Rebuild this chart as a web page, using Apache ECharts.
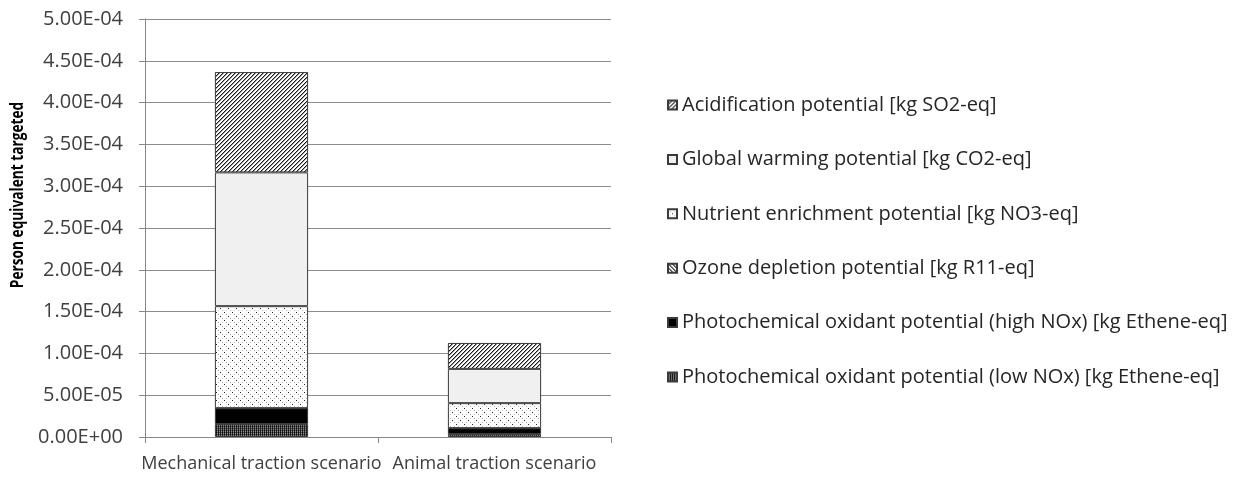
<!DOCTYPE html>
<html>
<head>
<meta charset="utf-8">
<script src="https://cdn.jsdelivr.net/npm/echarts@6/dist/echarts.min.js"></script>
<style>
  html, body { margin: 0; padding: 0; background: #fff; }
  #main { width: 1241px; height: 480px; }
</style>
</head>
<body>
<div id="main"></div>
<script>
// scenarios on the x axis
const scenarios = ['Mechanical traction scenario', 'Animal traction scenario'];
// y axis ticks (as shown)
const yTicks = ['0.00E+00', '5.00E-05', '1.00E-04', '1.50E-04', '2.00E-04', '2.50E-04', '3.00E-04', '3.50E-04', '4.00E-04', '4.50E-04', '5.00E-04'];

// impact categories, stacked bottom -> top
const lowNOx = [1.55e-5, 3.5e-6];
const highNOx = [1.88e-5, 7.0e-6];
const ozone = [2e-7, 1e-7];
const nutrient = [1.22e-4, 2.99e-5];
const gwp = [1.60e-4, 4.10e-5];
const acid = [1.20e-4, 3.10e-5];

const names = {
  acid: 'Acidification potential [kg SO2-eq]',
  gwp: 'Global warming potential [kg CO2-eq]',
  nutrient: 'Nutrient enrichment potential [kg NO3-eq]',
  ozone: 'Ozone depletion potential [kg R11-eq]',
  high: 'Photochemical oxidant potential (high NOx) [kg Ethene-eq]',
  low: 'Photochemical oxidant potential (low NOx) [kg Ethene-eq]'
};

// little pixel tiles used as fill patterns
function tile(size, bg, draw) {
  const c = document.createElement('canvas');
  c.width = size; c.height = size;
  const ctx = c.getContext('2d');
  ctx.fillStyle = bg;
  ctx.fillRect(0, 0, size, size);
  draw(ctx);
  return { image: c, repeat: 'repeat' };
}
function px(ctx, x, y, col) { ctx.fillStyle = col; ctx.fillRect(x, y, 1, 1); }

const acidFill = tile(4, '#ffffff', ctx => {
  for (let i = 0; i < 4; i++) {
    px(ctx, i, 3 - i, '#1a1a1a');
    px(ctx, (i + 1) % 4, 3 - i, '#9a9a9a');
  }
});
const ozoneFill = tile(4, '#ffffff', ctx => {
  for (let i = 0; i < 4; i++) {
    px(ctx, i, i, '#1a1a1a');
    px(ctx, (i + 1) % 4, i, '#9a9a9a');
  }
});
const nutrientFill = tile(8, '#ffffff', ctx => {
  px(ctx, 0, 0, '#202020');
  px(ctx, 4, 4, '#202020');
  px(ctx, 2, 2, '#b0b0b0');
  px(ctx, 6, 6, '#b0b0b0');
  px(ctx, 2, 6, '#c8c8c8');
  px(ctx, 6, 2, '#c8c8c8');
});
const lowFill = tile(2, '#505050', ctx => {
  px(ctx, 0, 0, '#101010');
  px(ctx, 1, 1, '#8a8a8a');
  px(ctx, 0, 1, '#2a2a2a');
});

const border = { borderColor: '#3a3a3a', borderWidth: 1 };

function bar(name, data, fill) {
  return {
    name: name,
    type: 'bar',
    stack: 'total',
    barWidth: '40%',
    data: data,
    itemStyle: Object.assign({ color: fill }, border),
    emphasis: { disabled: true }
  };
}

const chart = echarts.init(document.getElementById('main'), null, { renderer: 'canvas' });
chart.setOption({
  animation: false,
  textStyle: { fontFamily: 'Open Sans' },
  grid: { left: 145, right: 630, top: 19, bottom: 43, containLabel: false },
  legend: {
    orient: 'vertical',
    left: 662,
    top: 89,
    icon: 'rect',
    itemWidth: 9,
    itemHeight: 9,
    itemGap: 32.4,
    data: [names.acid, names.gwp, names.nutrient, names.ozone, names.high, names.low],
    textStyle: { fontSize: 20, color: '#262626', lineHeight: 22, fontFamily: 'Open Sans' },
    selectedMode: false
  },
  graphic: [{
    type: 'text',
    x: 18,
    y: 195,
    rotation: Math.PI / 2,
    scaleX: 0.76,
    style: {
      text: 'Person equivalent targeted',
      fontFamily: 'Open Sans',
      fontSize: 18,
      fontWeight: 'bold',
      fill: '#000000',
      align: 'center',
      verticalAlign: 'middle'
    }
  }],
  xAxis: {
    type: 'category',
    data: scenarios,
    axisLine: { lineStyle: { color: '#888888' } },
    axisTick: { show: true, length: 6, lineStyle: { color: '#888888' } },
    axisLabel: { fontSize: 18, color: '#404040', margin: 18, interval: 0 }
  },
  yAxis: {
    type: 'value',
    min: 0,
    max: 5e-4,
    interval: 5e-5,
    axisLine: { show: true, lineStyle: { color: '#888888' } },
    axisTick: { show: true, length: 6, lineStyle: { color: '#888888' } },
    splitLine: { lineStyle: { color: '#8c8c8c' } },
    axisLabel: {
      fontSize: 20, color: '#404040', margin: 22,
      formatter: (v, i) => yTicks[i]
    }
  },
  series: [
    bar(names.low, lowNOx, lowFill),
    bar(names.high, highNOx, '#000000'),
    bar(names.ozone, ozone, ozoneFill),
    bar(names.nutrient, nutrient, nutrientFill),
    bar(names.gwp, gwp, '#f0f0f0'),
    bar(names.acid, acid, acidFill)
  ]
});
</script>
</body>
</html>
